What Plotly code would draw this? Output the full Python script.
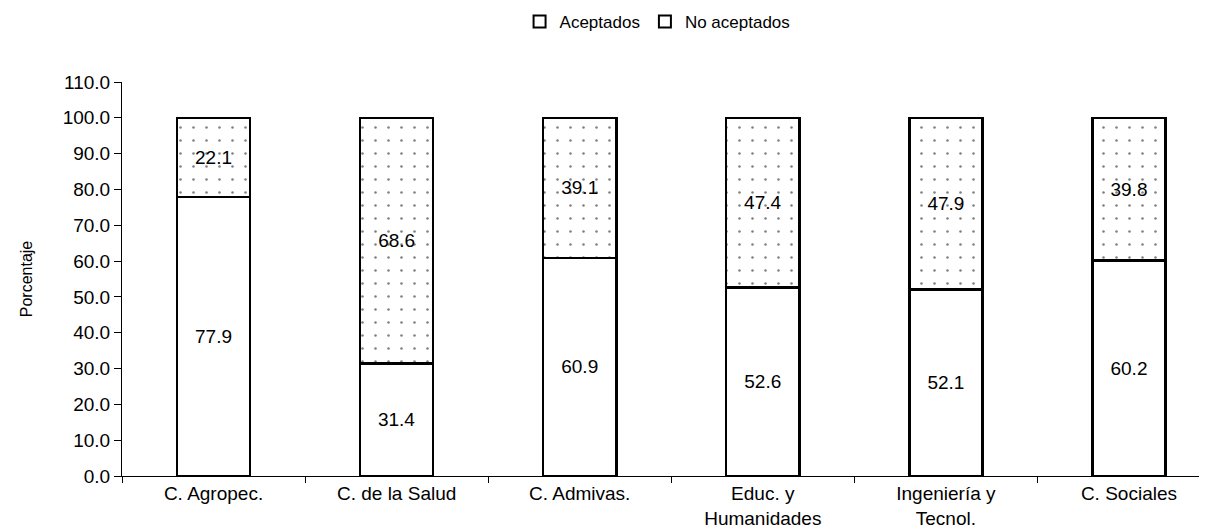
import plotly.graph_objects as go

# data
categories = ["C. Agropec.", "C. de la Salud", "C. Admivas.",
              "Educ. y<br>Humanidades", "Ingeniería y<br>Tecnol.", "C. Sociales"]
aceptados = [77.9, 31.4, 60.9, 52.6, 52.1, 60.2]
no_aceptados = [22.1, 68.6, 39.1, 47.4, 47.9, 39.8]
y_ticks = [0, 10, 20, 30, 40, 50, 60, 70, 80, 90, 100, 110]

FONT = "Arial, Liberation Sans, sans-serif"

fig = go.Figure()

# bars (legend is drawn by separate plain entries below)
fig.add_bar(x=categories, y=aceptados, name="Aceptados", showlegend=False,
            marker=dict(color="white", line=dict(color="black", width=2.5)),
            text=["%.1f" % v for v in aceptados], textposition="inside",
            insidetextanchor="middle", textfont=dict(size=19, color="black"),
            width=0.4)
fig.add_bar(x=categories, y=no_aceptados, name="No aceptados", showlegend=False,
            marker=dict(color="white", line=dict(color="black", width=2.5),
                        pattern=dict(shape=".", size=13, solidity=0.03,
                                     fgcolor="black", bgcolor="white")),
            text=["%.1f" % v for v in no_aceptados], textposition="inside",
            insidetextanchor="middle", textfont=dict(size=19, color="black"),
            width=0.4)

# legend entries
for nm in ["Aceptados", "No aceptados"]:
    fig.add_bar(x=[categories[0]], y=[None], name=nm,
                marker=dict(color="white", line=dict(color="black", width=2)))

fig.update_layout(
    width=1207, height=532,
    barmode="stack",
    paper_bgcolor="white", plot_bgcolor="white",
    font=dict(family=FONT, size=19, color="black"),
    margin=dict(l=114, r=0, t=74, b=64, autoexpand=False),
    showlegend=True,
    legend=dict(orientation="h", x=0.49, xanchor="center",
                yref="container", y=0.974, yanchor="middle",
                font=dict(size=17), itemwidth=30, traceorder="normal"),
)
fig.update_xaxes(range=[-0.5, 5.47], showline=True, linecolor="black", linewidth=1,
                 ticks="outside", tickson="boundaries", ticklen=6, tickcolor="black",
                 showgrid=False, tickfont=dict(size=19))
fig.update_yaxes(range=[0, 110], tickvals=y_ticks, tickformat=".1f",
                 showline=True, linecolor="black", linewidth=1,
                 ticks="outside", ticklen=7, tickcolor="black", showgrid=False,
                 zeroline=False, tickfont=dict(size=19),
                 title=dict(text="Porcentaje", font=dict(size=16), standoff=26))

fig.write_html("out.html")
